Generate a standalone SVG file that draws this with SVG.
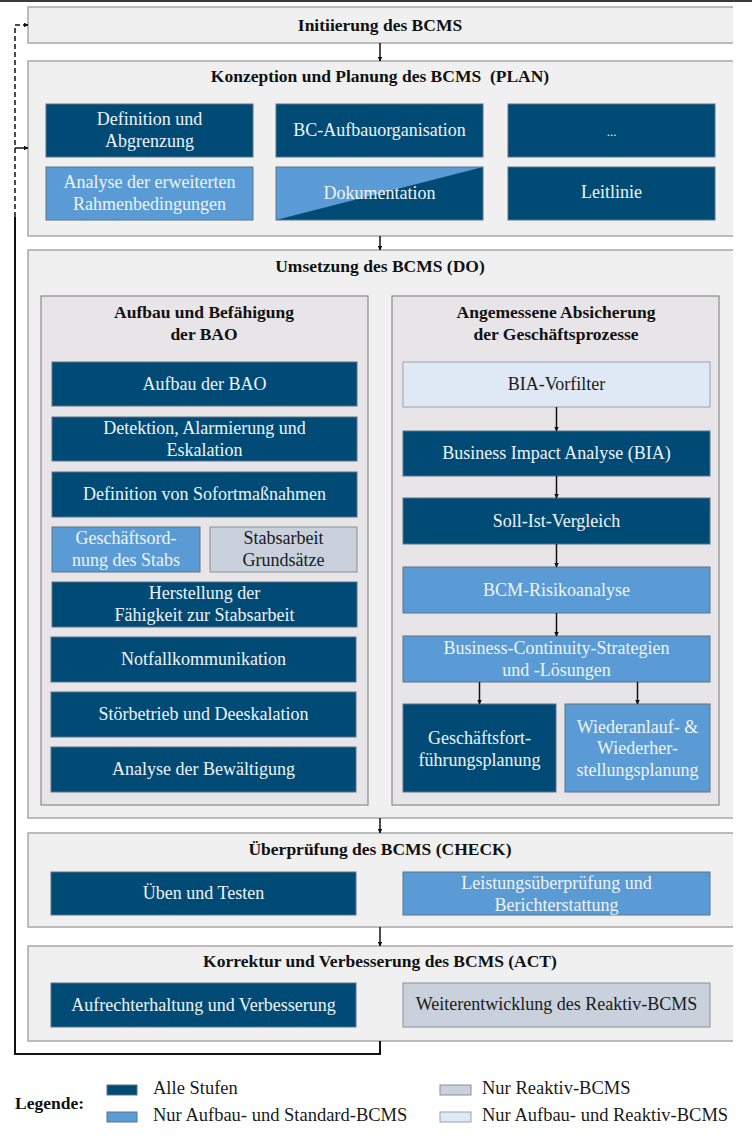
<svg xmlns="http://www.w3.org/2000/svg" width="752" height="1140" viewBox="0 0 752 1140">
<style>
text{font-family:"Liberation Serif","DejaVu Serif",serif;font-size:18px;text-anchor:middle;dominant-baseline:central}
.t{font-weight:bold;fill:#111;font-size:17.5px}
.sec{fill:#f0f0f0;stroke:none}
.se{fill:none;stroke:#a8a8a8;stroke-width:1.5}
.pan{fill:#e7e5e7;stroke:#8a8a8a;stroke-width:1.2}
.d{fill:#004b76;stroke:#5d7486;stroke-width:1}
.l{fill:#5b9bd5;stroke:#5d7486;stroke-width:1}
.g{fill:#c9d1dc;stroke:#8a8f96;stroke-width:1}
.v{fill:#dfe9f5;stroke:#9aa4ae;stroke-width:1}
.w{fill:#eef3f8}
.k{fill:#1a1a1a}
.c{fill:none;stroke:#111;stroke-width:1.5}
.lg{text-anchor:start;fill:#1a1a1a;font-size:18.5px}
</style>
<defs>
<marker id="ah" viewBox="0 0 10 10" refX="9" refY="5" markerWidth="5" markerHeight="5" orient="auto" markerUnits="userSpaceOnUse"><path d="M0,0 L10,5 L0,10 z" fill="#111"/></marker>
</defs>
<rect x="0" y="0" width="752" height="2" fill="#3a3a3a"/>

<g id="init"><rect class="sec" x="28" y="7" width="705" height="36"/><path class="se" d="M733,7 H28 V43 H733"/><text class="t" x="380" y="25">Initiierung des BCMS</text></g>

<g id="plan"><rect class="sec" x="28" y="61" width="705" height="175"/><path class="se" d="M733,61 H28 V236 H733"/><text class="t" x="380" y="76" xml:space="preserve">Konzeption und Planung des BCMS  (PLAN)</text></g>
<g id="p1"><rect class="d" x="46" y="104" width="207" height="53"/><text class="w" x="149.5" y="119">Definition und</text><text class="w" x="149.5" y="141">Abgrenzung</text></g>
<g id="p2"><rect class="d" x="276" y="104" width="207" height="53"/><text class="w" x="379.5" y="130">BC-Aufbauorganisation</text></g>
<g id="p3"><rect class="d" x="508" y="104" width="207" height="53"/><text class="w" x="611.5" y="131" style="font-size:13px">...</text></g>
<g id="p4"><rect class="l" x="46" y="167" width="207" height="53"/><text class="w" x="149.5" y="182">Analyse der erweiterten</text><text class="w" x="149.5" y="204">Rahmenbedingungen</text></g>
<g id="p5"><rect x="276" y="167" width="207" height="53" fill="#004b76"/><polygon points="276,167 483,167 276,220" fill="#5b9bd5"/><rect x="276" y="167" width="207" height="53" fill="none" stroke="#5d7486" stroke-width="1"/><text class="w" x="379.5" y="193">Dokumentation</text></g>
<g id="p6"><rect class="d" x="508" y="167" width="207" height="53"/><text class="w" x="611.5" y="192">Leitlinie</text></g>

<g id="do"><rect class="sec" x="28" y="250" width="705" height="568"/><path class="se" d="M733,250 H28 V818 H733"/><text class="t" x="380" y="266">Umsetzung des BCMS (DO)</text></g>
<g id="bao"><rect class="pan" x="41" y="296" width="327" height="509"/><text class="t" x="204" y="312">Aufbau und Befähigung</text><text class="t" x="204" y="334">der BAO</text></g>
<g id="gp"><rect class="pan" x="392" y="296" width="327" height="509"/><text class="t" x="556" y="312">Angemessene Absicherung</text><text class="t" x="556" y="334">der Geschäftsprozesse</text></g>

<g id="b1"><rect class="d" x="52" y="362" width="305" height="44"/><text class="w" x="204.5" y="384">Aufbau der BAO</text></g>
<g id="b2"><rect class="d" x="52" y="417" width="305" height="44"/><text class="w" x="204.5" y="428">Detektion, Alarmierung und</text><text class="w" x="204.5" y="450">Eskalation</text></g>
<g id="b3"><rect class="d" x="52" y="472" width="305" height="45"/><text class="w" x="204.5" y="494">Definition von Sofortmaßnahmen</text></g>
<g id="b4"><rect class="l" x="52" y="527" width="148" height="45"/><text class="w" x="126" y="538">Geschäftsord-</text><text class="w" x="126" y="560">nung des Stabs</text></g>
<g id="b5"><rect class="g" x="210" y="527" width="147" height="45"/><text class="k" x="283.5" y="538">Stabsarbeit</text><text class="k" x="283.5" y="560">Grundsätze</text></g>
<g id="b6"><rect class="d" x="52" y="582" width="305" height="45"/><text class="w" x="204.5" y="593">Herstellung der</text><text class="w" x="204.5" y="615">Fähigkeit zur Stabsarbeit</text></g>
<g id="b7"><rect class="d" x="51" y="637" width="305" height="45"/><text class="w" x="203.5" y="659">Notfallkommunikation</text></g>
<g id="b8"><rect class="d" x="51" y="692" width="305" height="45"/><text class="w" x="203.5" y="714">Störbetrieb und Deeskalation</text></g>
<g id="b9"><rect class="d" x="51" y="747" width="305" height="45"/><text class="w" x="203.5" y="769">Analyse der Bewältigung</text></g>

<g id="r1"><rect class="v" x="403" y="362" width="307" height="45"/><text class="k" x="556.5" y="384">BIA-Vorfilter</text></g>
<g id="r2"><rect class="d" x="403" y="431" width="307" height="45"/><text class="w" x="556.5" y="453">Business Impact Analyse (BIA)</text></g>
<g id="r3"><rect class="d" x="403" y="498" width="307" height="46"/><text class="w" x="556.5" y="521">Soll-Ist-Vergleich</text></g>
<g id="r4"><rect class="l" x="403" y="567" width="307" height="46"/><text class="w" x="556.5" y="590">BCM-Risikoanalyse</text></g>
<g id="r5"><rect class="l" x="403" y="636" width="307" height="46"/><text class="w" x="556.5" y="648">Business-Continuity-Strategien</text><text class="w" x="556.5" y="670">und -Lösungen</text></g>
<g id="r6"><rect class="d" x="403" y="704" width="153" height="88"/><text class="w" x="479.5" y="738">Geschäftsfort-</text><text class="w" x="479.5" y="760">führungsplanung</text></g>
<g id="r7"><rect class="l" x="565" y="704" width="145" height="88"/><text class="w" x="637.5" y="727">Wiederanlauf- &amp;</text><text class="w" x="637.5" y="748">Wiederher-</text><text class="w" x="637.5" y="770">stellungsplanung</text></g>

<g id="check"><rect class="sec" x="28" y="833" width="705" height="94"/><path class="se" d="M733,833 H28 V927 H733"/><text class="t" x="380" y="849">Überprüfung des BCMS (CHECK)</text></g>
<g id="c1"><rect class="d" x="51" y="872" width="305" height="43"/><text class="w" x="203.5" y="893">Üben und Testen</text></g>
<g id="c2"><rect class="l" x="403" y="872" width="307" height="43"/><text class="w" x="556.5" y="883">Leistungsüberprüfung und</text><text class="w" x="556.5" y="905">Berichterstattung</text></g>

<g id="act"><rect class="sec" x="28" y="946" width="705" height="95"/><path class="se" d="M733,946 H28 V1041 H733"/><text class="t" x="380" y="961">Korrektur und Verbesserung des BCMS (ACT)</text></g>
<g id="a1"><rect class="d" x="51" y="983" width="305" height="44"/><text class="w" x="203.5" y="1005">Aufrechterhaltung und Verbesserung</text></g>
<g id="a2"><rect class="g" x="403" y="983" width="307" height="44"/><text class="k" x="556.5" y="1004">Weiterentwicklung des Reaktiv-BCMS</text></g>

<g id="connectors">
<path class="c" d="M380,43 V61" marker-end="url(#ah)"/>
<path class="c" d="M380,236 V250" marker-end="url(#ah)"/>
<path class="c" d="M380,818 V833" marker-end="url(#ah)"/>
<path class="c" d="M380,927 V946" marker-end="url(#ah)"/>
<path class="c" d="M556.5,407 V431" marker-end="url(#ah)"/>
<path class="c" d="M556.5,476 V498" marker-end="url(#ah)"/>
<path class="c" d="M556.5,544 V567" marker-end="url(#ah)"/>
<path class="c" d="M556.5,613 V636" marker-end="url(#ah)"/>
<path class="c" d="M479.5,682 V704" marker-end="url(#ah)"/>
<path class="c" d="M637.5,682 V704" marker-end="url(#ah)"/>
<path class="c" d="M380,1041 V1054 H15 V217" style="stroke-width:2"/>
<path class="c" d="M15,217 V25 H28" stroke-dasharray="5,3" marker-end="url(#ah)"/>
<path class="c" d="M15,148 H28" marker-end="url(#ah)"/>
</g>

<g id="legend">
<text class="t" x="15" y="1103" style="text-anchor:start">Legende:</text>
<rect class="d" x="107" y="1085" width="30" height="10"/>
<rect class="l" x="107" y="1112" width="30" height="10"/>
<rect class="g" x="440" y="1085" width="31" height="10"/>
<rect class="v" x="440" y="1112" width="31" height="10"/>
<text class="lg" x="153" y="1088">Alle Stufen</text>
<text class="lg" x="153" y="1115">Nur Aufbau- und Standard-BCMS</text>
<text class="lg" x="482" y="1088">Nur Reaktiv-BCMS</text>
<text class="lg" x="482" y="1115">Nur Aufbau- und Reaktiv-BCMS</text>
</g>
</svg>
